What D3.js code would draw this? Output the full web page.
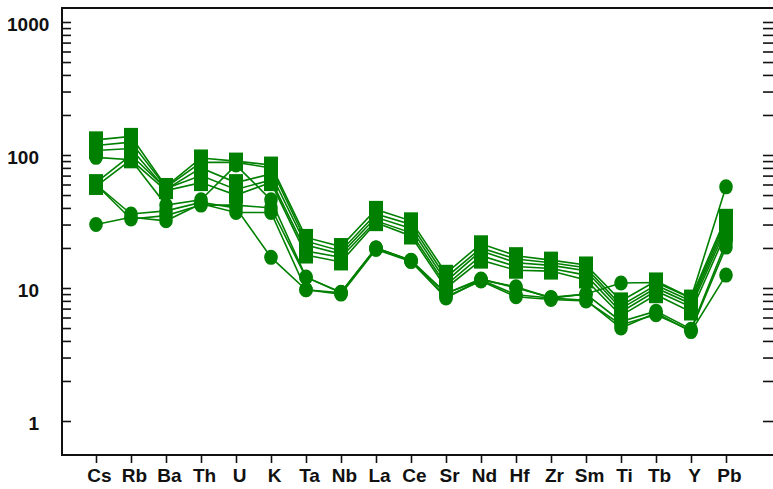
<!DOCTYPE html>
<html>
<head>
<meta charset="utf-8">
<script src="https://cdn.jsdelivr.net/npm/d3@7"></script>
<style>
  body { margin: 0; background: #fff; }
  #svg-container { width: 773px; height: 489px; }
  text { font-family: Arial, "Liberation Sans", sans-serif; font-weight: bold; fill: #111; }
</style>
</head>
<body>
<div id="svg-container"></div>
<script>
////////////////////////////////////////////////////////////////////
////////////////////////////  Data  ////////////////////////////////
const elements = ["Cs", "Rb", "Ba", "Th", "U", "K", "Ta", "Nb", "La", "Ce",
  "Sr", "Nd", "Hf", "Zr", "Sm", "Ti", "Tb", "Y", "Pb"];

// square-marker samples
const sq1 = [130, 138, 58, 95, 90, 84, 24, 20.5, 39, 32, 12.9, 21.5, 17.5, 16.2, 14.9, 8.0, 11.3, 8.4, 34];
const sq2 = [118, 125, 57, 88, 88, 80, 22.5, 19, 36, 30, 12, 20, 16.5, 15.5, 14.2, 7.4, 10.5, 8.0, 32];
const sq3 = [108, 112, 55, 80, 62, 72, 21, 18, 34, 28, 11.2, 19, 15.5, 14.8, 13.5, 7.0, 10, 7.6, 30];
const sq4 = [62, 100, 56, 70, 55, 65, 19, 17, 32, 26, 10.5, 17.5, 14.5, 14, 12.5, 6.6, 9.5, 7.2, 28];
const sq5 = [58, 92, 54, 62, 50, 62, 17.7, 15.7, 31, 24.6, 10.0, 16.2, 13.6, 13.4, 11.5, 6.2, 8.9, 6.6, 26];

// circle-marker samples
const ci1 = [96, 92, 42, 46, 84, 46, 12.1, 9.2, 20, 16, 9.1, 11.5, 10.2, 8.4, 9.0, 10.9, 11, 8.4, 57.6];
const ci2 = [30, 34, 32, 43, 37, 37, 9.7, 9.2, 20, 16, 8.4, 11.5, 8.9, 8.4, 8.1, 5.0, 6.5, 4.7, 12.5];
const ci3 = [60, 36, 38, 44, 40, 17, 9.7, 9.0, 19.5, 15.8, 8.6, 11.3, 8.6, 8.2, 8.0, 5.3, 6.3, 4.8, 20.3];
const ci4 = [60, 33, 35, 42, 42, 40, 12, 9.3, 20, 16.2, 9.1, 11.7, 10, 8.5, 9.0, 5.6, 6.7, 4.9, 22];

const yTickLabels = [1, 10, 100, 1000];

const series = [
  { shape: "square", values: sq1 },
  { shape: "square", values: sq2 },
  { shape: "square", values: sq3 },
  { shape: "square", values: sq4 },
  { shape: "square", values: sq5 },
  { shape: "circle", values: ci1 },
  { shape: "circle", values: ci2 },
  { shape: "circle", values: ci3 },
  { shape: "circle", values: ci4 },
];

////////////////////////////////////////////////////////////////////
////////////////////////////  Init  ////////////////////////////////
const width = 773;
const height = 489;
const frame = { left: 62, top: 8, right: 773, bottom: 455 };
const green = "#008000";

const svg = d3.select("#svg-container").append("svg")
  .attr("width", width)
  .attr("height", height);

// Scales
const xScale = d3.scalePoint().domain(elements).range([96, 726]);
const yScale = d3.scaleLog().domain([1, 1000]).range([421, 22]);

// minor + major ticks 1..1000
const allTicks = [];
[1, 10, 100].forEach((dec) => d3.range(1, 10).forEach((m) => allTicks.push(dec * m)));
allTicks.push(1000);

// left axis (ticks inward)
const yAxisLeft = d3.axisRight(yScale).tickValues(allTicks).tickSize(9).tickFormat("");
svg.append("g")
  .attr("transform", `translate(${frame.left},0)`)
  .call(yAxisLeft)
  .call((g) => g.select(".domain").remove())
  .selectAll("line").attr("stroke", "#111").attr("stroke-width", 1.6);

// right axis (ticks inward, axis line just off the picture)
const yAxisRight = d3.axisLeft(yScale).tickValues(allTicks).tickSize(10).tickFormat("");
svg.append("g")
  .attr("transform", `translate(${frame.right},0)`)
  .call(yAxisRight)
  .call((g) => g.select(".domain").remove())
  .selectAll("line").attr("stroke", "#111").attr("stroke-width", 1.6);

// y labels
svg.selectAll(".y-label")
  .data(yTickLabels)
  .enter()
  .append("text")
  .attr("class", "y-label")
  .attr("x", (d) => (d === 1000 ? 7 : 39))
  .attr("y", (d) => yScale(d) + 2)
  .attr("dy", "0.35em")
  .attr("text-anchor", (d) => (d === 1000 ? "start" : "end"))
  .style("font-size", "19px")
  .text((d) => d);

// x axis
const xAxis = d3.axisBottom(xScale).tickSize(8).tickPadding(6);
const gx = svg.append("g")
  .attr("transform", `translate(0,${frame.bottom})`)
  .call(xAxis);
gx.select(".domain").remove();
gx.selectAll("line").attr("stroke", "#111").attr("stroke-width", 1.6);
gx.selectAll("text")
  .attr("fill", "#111")
  .attr("dx", 3)
  .style("font-size", "19px")
  .style("font-family", "Arial, 'Liberation Sans', sans-serif")
  .style("font-weight", "bold");

// frame lines (left, top, bottom)
svg.append("path")
  .attr("d", `M${frame.right + 2},${frame.top}H${frame.left}V${frame.bottom}H${frame.right + 2}`)
  .attr("fill", "none")
  .attr("stroke", "#111")
  .attr("stroke-width", 2);

////////////////////////////////////////////////////////////////////
////////////////////////////  Series  //////////////////////////////
const line = d3.line()
  .x((d, i) => xScale(elements[i]))
  .y((d) => yScale(d));

const plot = svg.append("g");

plot.selectAll(".sample-line")
  .data(series)
  .enter()
  .append("path")
  .attr("class", "sample-line")
  .attr("d", (d) => line(d.values))
  .attr("fill", "none")
  .attr("stroke", green)
  .attr("stroke-width", 1.6);

series.forEach((s) => {
  const pts = s.values.map((v, i) => ({ x: xScale(elements[i]), y: yScale(v) }));
  if (s.shape === "square") {
    plot.selectAll(null)
      .data(pts)
      .enter()
      .append("rect")
      .attr("x", (d) => d.x - 7)
      .attr("y", (d) => d.y - 8.5)
      .attr("width", 14)
      .attr("height", 17)
      .attr("fill", green);
  } else {
    plot.selectAll(null)
      .data(pts)
      .enter()
      .append("ellipse")
      .attr("cx", (d) => d.x)
      .attr("cy", (d) => d.y)
      .attr("rx", 6.8)
      .attr("ry", 7.5)
      .attr("fill", green);
  }
});
</script>
</body>
</html>
